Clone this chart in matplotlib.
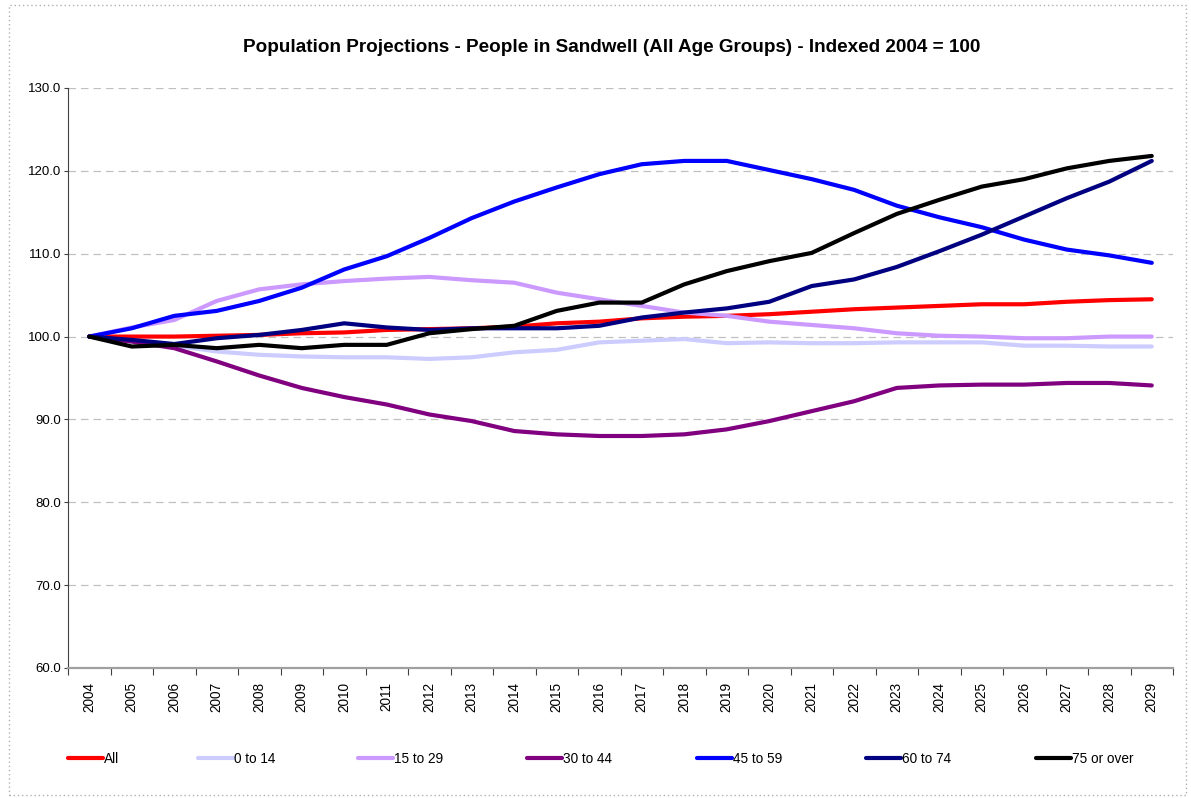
import numpy as np
import matplotlib as mpl
mpl.use('Agg')
import matplotlib.pyplot as plt
from matplotlib.patches import Rectangle
from matplotlib import font_manager

plt.rcParams['font.family'] = ['Liberation Sans', 'DejaVu Sans']

years = list(range(2004, 2030))

all_ages   = [100.0, 100.0, 100.0, 100.1, 100.2, 100.4, 100.5, 100.8, 100.9, 101.0, 101.2, 101.6, 101.8,
              102.2, 102.4, 102.5, 102.7, 103.0, 103.3, 103.5, 103.7, 103.9, 103.9, 104.2, 104.4, 104.5]
age_0_14   = [100.0, 99.4, 98.9, 98.2, 97.8, 97.6, 97.5, 97.5, 97.3, 97.5, 98.1, 98.4, 99.3,
              99.5, 99.7, 99.2, 99.3, 99.2, 99.2, 99.3, 99.3, 99.3, 98.9, 98.9, 98.8, 98.8]
age_15_29  = [100.0, 101.1, 102.0, 104.3, 105.7, 106.3, 106.7, 107.0, 107.2, 106.8, 106.5, 105.3, 104.5,
              103.7, 102.9, 102.5, 101.8, 101.4, 101.0, 100.4, 100.1, 100.0, 99.8, 99.8, 100.0, 100.0]
age_30_44  = [100.0, 99.4, 98.6, 97.0, 95.3, 93.8, 92.7, 91.8, 90.6, 89.8, 88.6, 88.2, 88.0,
              88.0, 88.2, 88.8, 89.8, 91.0, 92.2, 93.8, 94.1, 94.2, 94.2, 94.4, 94.4, 94.1]
age_45_59  = [100.0, 101.0, 102.5, 103.1, 104.3, 105.9, 108.1, 109.7, 111.9, 114.3, 116.3, 118.0, 119.6,
              120.8, 121.2, 121.2, 120.1, 119.0, 117.7, 115.8, 114.4, 113.2, 111.7, 110.5, 109.8, 108.9]
age_60_74  = [100.0, 99.6, 99.1, 99.8, 100.2, 100.8, 101.6, 101.1, 100.8, 101.0, 101.0, 101.0, 101.3,
              102.3, 102.9, 103.4, 104.2, 106.1, 106.9, 108.4, 110.3, 112.3, 114.5, 116.7, 118.7, 121.2]
age_75_over = [100.0, 98.8, 99.0, 98.6, 99.0, 98.6, 99.0, 99.0, 100.4, 100.9, 101.3, 103.1, 104.1,
               104.1, 106.3, 107.9, 109.1, 110.1, 112.5, 114.8, 116.5, 118.1, 119.0, 120.3, 121.2, 121.8]

series = [
    ('All', all_ages, '#FF0000'),
    ('0 to 14', age_0_14, '#CCCCFF'),
    ('15 to 29', age_15_29, '#CC99FF'),
    ('30 to 44', age_30_44, '#800080'),
    ('45 to 59', age_45_59, '#0000FF'),
    ('60 to 74', age_60_74, '#000080'),
    ('75 or over', age_75_over, '#000000'),
]

# legend entry left edges (pixels), as laid out in the original
legend_x = [68, 198, 358, 527, 697, 866, 1036]

fig = plt.figure(figsize=(11.91, 7.98), dpi=100)
ax = fig.add_axes([68/1191, 1 - 668/798, (1173-68)/1191, (668-88)/798])

x = np.arange(len(years))
handles = []
for name, vals, col in series:
    h, = ax.plot(x, vals, color=col, lw=3, label=name, solid_joinstyle='round', solid_capstyle='round')
    handles.append(h)

ax.set_xlim(-0.5, len(years) - 0.5)
ax.set_ylim(60, 130)
ax.set_yticks(np.arange(60, 131, 10))
ax.set_yticklabels(['%.1f' % v for v in np.arange(60, 131, 10)], fontsize=9.5)
ax.yaxis.grid(True, linestyle=(0, (6, 4)), color='#C0C0C0', lw=0.9)
ax.set_axisbelow(True)

# category ticks sit between years, labels at the centres
ax.set_xticks(np.arange(-0.5, len(years), 1.0))
ax.set_xticklabels([])
ax.set_xticks(x, minor=True)
ax.set_xticklabels([str(y) for y in years], minor=True, rotation=90, fontsize=9.8)
ax.tick_params(axis='x', which='minor', length=0, pad=10)
ax.tick_params(axis='x', which='major', length=5, color='#404040')
ax.tick_params(axis='y', length=3, color='#404040', pad=2)

for s in ['top', 'right']:
    ax.spines[s].set_visible(False)
ax.spines['left'].set_color('#404040')
ax.spines['bottom'].set_color('#A0A0A0')
ax.spines['bottom'].set_linewidth(1.6)

fig.text(612/1191, 1 - 47/798, 'Population Projections - People in Sandwell (All Age Groups) - Indexed 2004 = 100',
         ha='center', va='center', fontsize=13.6, fontweight='bold')

narrow = [f.name for f in font_manager.fontManager.ttflist if f.name == 'Liberation Sans Narrow']
leg_font = {'family': ['Liberation Sans Narrow', 'Liberation Sans'] if narrow else ['Liberation Sans'],
            'size': 11 if narrow else 9.8}
for h, lx in zip(handles, legend_x):
    fig.legend([h], [h.get_label()], loc='center left', bbox_to_anchor=(lx/1191, 1 - 759/798),
               frameon=False, prop=leg_font, handlelength=2.6, handletextpad=0.05,
               borderpad=0, borderaxespad=0)

fig.patches.append(Rectangle((9/1191, 0.004), 1177/1191, 0.99, transform=fig.transFigure, fill=False,
                             ec='#B0B0B0', lw=1, ls=(0, (1, 2))))

plt.savefig('out.png', dpi=100)
